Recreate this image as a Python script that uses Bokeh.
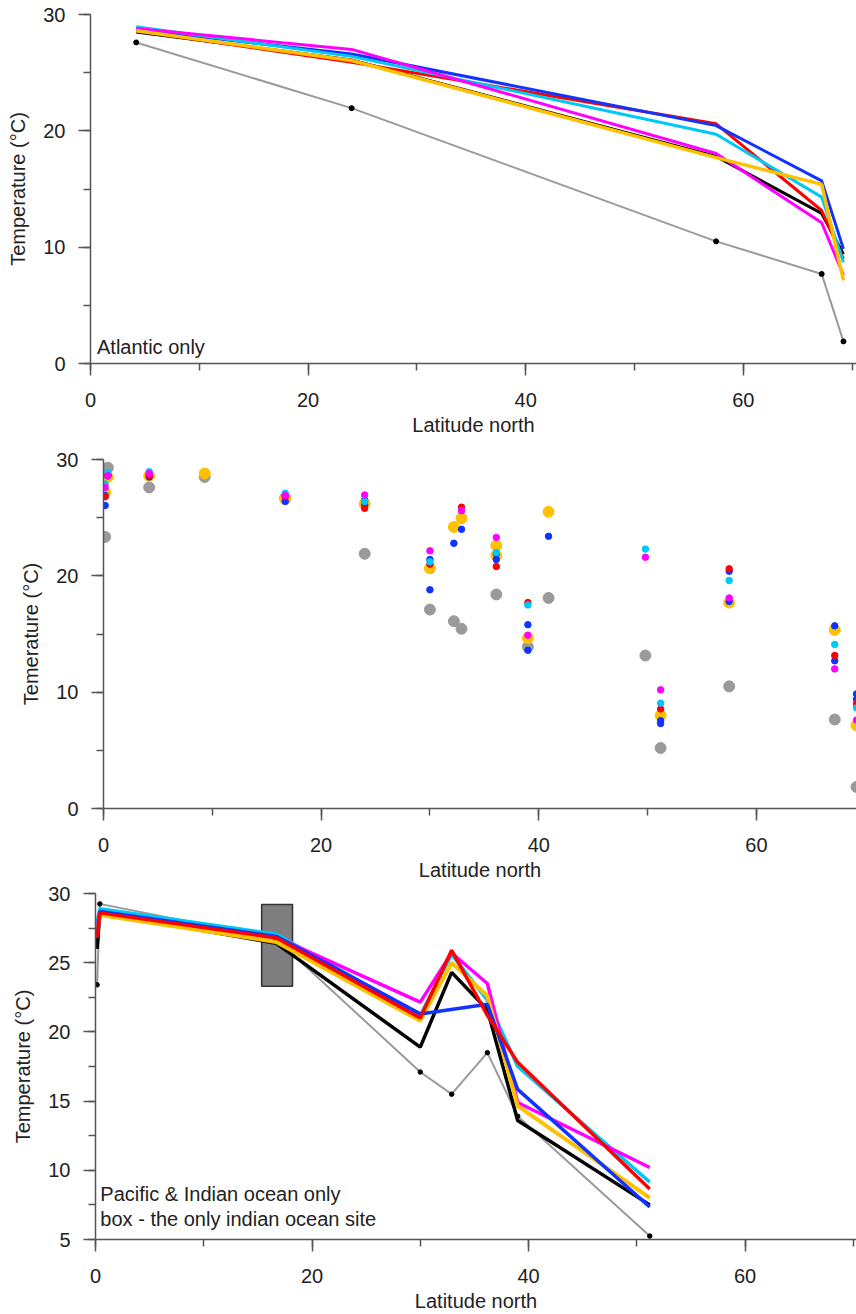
from bokeh.plotting import figure
from bokeh.models import Range1d, SingleIntervalTicker
from bokeh.core.properties import value
from bokeh.embed import file_html
from bokeh.resources import INLINE

# ---------------- data ----------------
# Panel 1: Atlantic only
atl_lat = [4.2, 24.0, 57.5, 67.2, 69.2]
atl_grey = [27.6, 21.95, 10.5, 7.7, 1.9]
atl_black = [28.5, 26.1, 17.8, 12.9, 9.4]
atl_red = [28.6, 25.9, 20.6, 13.15, 9.0]
atl_blue = [28.7, 26.6, 20.45, 15.7, 9.85]
atl_cyan = [28.95, 26.4, 19.7, 14.3, 8.7]
atl_magenta = [28.8, 27.0, 18.05, 12.1, 7.6]
atl_orange = [28.6, 26.05, 17.7, 15.4, 7.15]

# Panel 2: all sites (points)
mid_grey_lat = [0.15, 0.4, 4.2, 9.3, 16.7, 24.0, 30.0, 32.2, 32.9, 36.1, 39.0, 40.9, 49.8, 51.2, 57.5, 67.2, 69.2]
mid_grey = [23.35, 29.3, 27.6, 28.5, 26.7, 21.9, 17.1, 16.1, 15.45, 18.4, 13.9, 18.1, 13.15, 5.2, 10.5, 7.65, 1.85]
mid_orange_lat = [0.15, 0.4, 4.2, 9.3, 16.7, 24.0, 30.0, 32.2, 32.9, 36.1, 36.1, 39.0, 40.9, 51.2, 57.5, 67.2, 69.2]
mid_orange = [27.15, 28.5, 28.6, 28.8, 26.6, 26.2, 20.65, 24.2, 24.95, 22.6, 21.75, 14.65, 25.5, 8.0, 17.7, 15.35, 7.15]
mid_blue_lat = [0.15, 0.4, 4.2, 16.7, 24.0, 30.0, 32.2, 36.1, 39.0, 40.9, 51.2, 57.5, 67.2, 69.2]
mid_blue = [26.9, 28.7, 28.7, 26.9, 26.5, 21.4, 22.8, 21.9, 15.8, 23.4, 7.3, 20.4, 15.7, 9.85]
mid_black_lat = [0.15, 0.4, 4.2, 16.7, 24.0, 30.0, 32.9, 36.1, 39.0, 51.2, 57.5, 67.2, 69.2]
mid_black = [26.05, 28.6, 28.5, 26.4, 26.1, 18.8, 24.0, 21.4, 13.6, 7.55, 17.8, 12.7, 9.4]
mid_red_lat = [0.15, 0.4, 4.2, 16.7, 24.0, 30.0, 32.9, 36.1, 39.0, 51.2, 57.5, 67.2, 69.2]
mid_red = [26.8, 28.6, 28.6, 26.8, 25.8, 21.0, 25.9, 20.8, 17.7, 8.55, 20.6, 13.15, 9.0]
mid_cyan_lat = [0.15, 0.4, 4.2, 16.7, 24.0, 30.0, 32.9, 36.1, 39.0, 49.8, 51.2, 57.5, 67.2, 69.2]
mid_cyan = [27.9, 28.9, 28.95, 27.1, 26.4, 21.2, 25.6, 22.0, 17.5, 22.3, 9.05, 19.6, 14.1, 8.65]
mid_magenta_lat = [0.15, 0.4, 4.2, 16.7, 24.0, 30.0, 32.9, 36.1, 39.0, 49.8, 51.2, 57.5, 67.2, 69.2]
mid_magenta = [27.6, 28.6, 28.8, 26.9, 26.95, 22.15, 25.6, 23.3, 14.9, 21.6, 10.2, 18.1, 12.0, 7.6]

# Panel 3: Pacific & Indian ocean only
pac_lat = [0.15, 0.4, 16.7, 30.0, 32.9, 36.2, 39.0, 51.2]
pac_grey = [23.4, 29.25, 26.7, 17.1, 15.5, 18.5, 13.9, 5.25]
pac_black = [26.0, 28.6, 26.4, 18.9, 24.3, 21.6, 13.6, 7.5]
pac_red = [26.8, 28.6, 26.8, 21.0, 25.9, 21.2, 17.8, 8.65]
pac_cyan = [27.9, 28.9, 27.05, 21.2, 25.6, 22.3, 17.5, 9.15]
pac_magenta = [27.6, 28.6, 26.85, 22.15, 25.7, 23.5, 14.9, 10.2]
pac_orange = [27.15, 28.45, 26.5, 20.8, 25.0, 22.6, 14.65, 8.0]
pac_blue_lat = [0.15, 0.4, 16.7, 30.0, 36.2, 39.0, 51.2]
pac_blue = [26.9, 28.7, 26.9, 21.3, 22.0, 15.85, 7.35]
box_lat = [15.35, 18.2]
box_temp = [23.3, 29.2]

# ---------------- style ----------------
FONT = "Liberation Sans"
GREY = "#9a9a9a"
BLACK = "#000000"
RED = "#ff0000"
BLUE = "#1133ff"
CYAN = "#00c8f5"
MAGENTA = "#ff00ff"
ORANGE = "#ffc000"
AX = "#555555"
TXT = "#222222"


def make_fig(h, left, top, bottom, xend, y0, y1):
    p = figure(width=856, height=h, output_backend="svg", toolbar_location=None,
               x_range=Range1d(0, xend), y_range=Range1d(y0, y1),
               min_border_left=left, min_border_right=0,
               min_border_top=top, min_border_bottom=bottom)
    p.xgrid.visible = False
    p.ygrid.visible = False
    p.outline_line_color = None
    p.background_fill_color = "white"
    p.border_fill_color = "white"
    return p


def style(p, yint, ylabel):
    p.xaxis.ticker = SingleIntervalTicker(interval=20, num_minor_ticks=2)
    p.yaxis.ticker = SingleIntervalTicker(interval=yint, num_minor_ticks=2)
    for ax in (p.xaxis[0], p.yaxis[0]):
        ax.major_tick_out = 12
        ax.major_tick_in = 0
        ax.minor_tick_out = 7
        ax.minor_tick_in = 0
        ax.axis_line_color = AX
        ax.axis_line_width = 1.5
        ax.major_tick_line_color = AX
        ax.major_tick_line_width = 1.5
        ax.minor_tick_line_color = AX
        ax.minor_tick_line_width = 1.5
        ax.major_label_text_font = FONT
        ax.major_label_text_font_size = "20px"
        ax.major_label_text_color = TXT
        ax.axis_label_text_font = FONT
        ax.axis_label_text_font_size = "20px"
        ax.axis_label_text_font_style = "normal"
        ax.axis_label_text_color = TXT
    p.xaxis.major_label_standoff = 17
    p.xaxis.axis_label_standoff = 4
    p.yaxis.major_label_standoff = 13
    p.yaxis.axis_label_standoff = 11
    p.xaxis.axis_label = "Latitude north"
    p.yaxis.axis_label = ylabel


# ---------------- panel 1 ----------------
p1 = make_fig(438, 90, 14, 75, 70.4, 0, 30)
style(p1, 10, "Temperature (°C)")
p1.line(atl_lat, atl_grey, color=GREY, line_width=2)
p1.scatter(atl_lat, atl_grey, size=5, color=BLACK)
for ys, c, w in [(atl_black, BLACK, 3), (atl_red, RED, 3), (atl_blue, BLUE, 3),
                 (atl_cyan, CYAN, 3), (atl_magenta, MAGENTA, 3), (atl_orange, ORANGE, 3.5)]:
    p1.line(atl_lat, ys, color=c, line_width=w)
p1.text(x=[0.6], y=[1.45], text=["Atlantic only"], text_font=value(FONT),
        text_font_size=value("20px"), text_color=TXT, text_baseline="middle", text_align="left")

# ---------------- panel 2 ----------------
p2 = make_fig(445, 103, 21, 75, 69.2, 0, 30)
style(p2, 10, "Temerature (°C)")
p2.scatter(mid_grey_lat, mid_grey, size=11, color=GREY)
p2.scatter(mid_orange_lat, mid_orange, size=11, color=ORANGE)
p2.scatter(mid_black_lat, mid_black, size=6.5, color=BLUE)
p2.scatter(mid_blue_lat, mid_blue, size=6.5, color=BLUE)
p2.scatter(mid_red_lat, mid_red, size=6.5, color=RED)
p2.scatter(mid_cyan_lat, mid_cyan, size=6.5, color=CYAN)
p2.scatter(mid_magenta_lat, mid_magenta, size=6.5, color=MAGENTA)

# ---------------- panel 3 ----------------
p3 = make_fig(431, 95, 10, 73, 70.3, 5, 30)
style(p3, 5, "Temperature (°C)")
p3.quad(left=[box_lat[0]], right=[box_lat[1]], bottom=[box_temp[0]], top=[box_temp[1]],
        fill_color="#7f7f7f", line_color="#333333", line_width=1.5)
p3.line(pac_lat, pac_grey, color=GREY, line_width=2)
p3.scatter(pac_lat, pac_grey, size=4.5, color=BLACK)
p3.line(pac_lat, pac_black, color=BLACK, line_width=3.5)
p3.line(pac_lat, pac_cyan, color=CYAN, line_width=3.5)
p3.line(pac_lat, pac_magenta, color=MAGENTA, line_width=3.5)
p3.line(pac_lat, pac_orange, color=ORANGE, line_width=4)
p3.line(pac_blue_lat, pac_blue, color=BLUE, line_width=3.5)
p3.line(pac_lat, pac_red, color=RED, line_width=3.5)
p3.text(x=[0.45, 0.45], y=[8.3, 6.5],
        text=["Pacific & Indian ocean only", "box - the only indian ocean site"],
        text_font=value(FONT), text_font_size=value("20px"), text_color=TXT,
        text_baseline="middle", text_align="left")

# three independent roots stacked on the page (each keeps its own frame position)
open("out.html", "w").write(file_html([p1, p2, p3], INLINE))
